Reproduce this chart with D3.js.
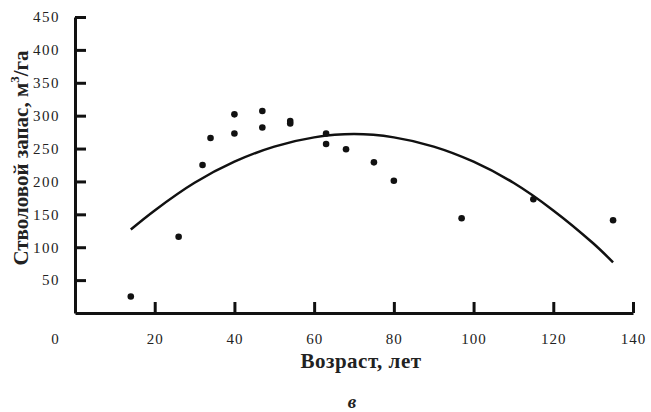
<body style="margin:0;background:#fff"></body>

<script src='https://d3js.org/d3.v7.min.js'></script>
<style>
    svg text {
        font-family: "Liberation Serif", "Times New Roman", serif;
        fill: #222;
    }
</style>
<script>

    // observed stands: age (years) and stem volume (m3/ha)
    var ages = [14, 26, 32, 34, 40, 40, 47, 47, 54, 54, 63, 63, 68, 75, 80, 97, 115, 135];
    var volumes = [25, 116, 225, 266, 302, 273, 307, 282, 292, 288, 273, 257, 249, 229, 201, 144, 173, 141];

    // trend curve
    var trendAges = [14, 20, 30, 40, 50, 60, 70, 80, 90, 100, 110, 120, 130, 135];
    var trendVolumes = [127, 156, 198, 230, 253, 267, 272, 267, 253, 230, 198, 156, 106, 77];

    var xTicks = [0, 20, 40, 60, 80, 100, 120, 140];
    var yTicks = [50, 100, 150, 200, 250, 300, 350, 400, 450];

    var width = 651;
    var height = 412;

    var svg = d3.select("body")
        .append("svg")
        .attr("width", width)
        .attr("height", height);

    var x = d3.scaleLinear().domain([0, 140]).range([75, 633]);
    var y = d3.scaleLinear().domain([0, 450]).range([313, 17]);

    // x axis, ticks point up into the plot
    var xAxis = svg.append("g")
        .attr("transform", "translate(0," + y(0) + ")")
        .call(d3.axisTop(x).tickValues(xTicks).tickSize(11).tickSizeOuter(0).tickFormat(d3.format("d")));
    xAxis.select(".domain").attr("stroke", "#111").attr("stroke-width", 3);
    xAxis.selectAll(".tick line").attr("stroke", "#111").attr("stroke-width", 3)
        .attr("display", function (d) { return d == 0 ? "none" : null; });
    xAxis.selectAll(".tick text")
        .attr("y", 31)
        .attr("x", function (d) { return d == 0 ? -20 : 0; })
        .attr("font-size", 15)
        .attr("letter-spacing", 1)
        .attr("fill", "#333");

    // y axis, ticks point right
    var yAxis = svg.append("g")
        .attr("transform", "translate(" + x(0) + ",0)")
        .call(d3.axisRight(y).tickValues(yTicks).tickSize(11).tickSizeOuter(0));
    yAxis.select(".domain").attr("stroke", "#111").attr("stroke-width", 3);
    yAxis.selectAll(".tick line").attr("stroke", "#111").attr("stroke-width", 3);
    yAxis.selectAll(".tick text")
        .attr("x", -15)
        .attr("text-anchor", "end")
        .attr("font-size", 15)
        .attr("letter-spacing", 1.5)
        .attr("fill", "#333");

    // trend curve
    var line = d3.line()
        .x(function (d, i) { return x(trendAges[i]); })
        .y(function (d) { return y(d); })
        .curve(d3.curveCatmullRom);

    svg.append("path")
        .datum(trendVolumes)
        .attr("d", line)
        .attr("fill", "none")
        .attr("stroke", "#111")
        .attr("stroke-width", 2.5);

    // points
    svg.selectAll("circle")
        .data(volumes)
        .enter()
        .append("circle")
        .attr("cx", function (d, i) { return x(ages[i]); })
        .attr("cy", function (d) { return y(d); })
        .attr("r", 3.3)
        .attr("fill", "#111");

    // titles
    svg.append("text")
        .attr("x", 361)
        .attr("y", 368)
        .attr("text-anchor", "middle")
        .attr("font-size", 21)
        .attr("font-weight", "bold")
        .attr("letter-spacing", 0.5)
        .text("Возраст, лет");

    svg.append("text")
        .attr("transform", "translate(28,158) rotate(-90)")
        .attr("text-anchor", "middle")
        .attr("font-size", 21)
        .attr("font-weight", "bold")
        .html("Стволовой запас, м<tspan dy='-9' font-size='13'>3</tspan><tspan dy='9'>/га</tspan>");

    svg.append("text")
        .attr("x", 352)
        .attr("y", 408)
        .attr("text-anchor", "middle")
        .attr("font-size", 19)
        .attr("font-weight", "bold")
        .attr("font-style", "italic")
        .text("в");

</script>
